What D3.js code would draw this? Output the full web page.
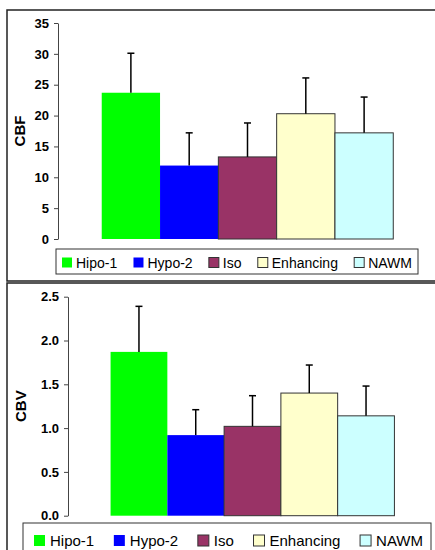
<!DOCTYPE html>
<html><head><meta charset="utf-8">
<script src="https://cdn.jsdelivr.net/npm/d3@7"></script>
<style>body{margin:0;background:#fff;overflow:hidden} svg{display:block} text{font-family:"Liberation Sans",Arial,sans-serif;fill:#000}</style>
</head><body><svg id="c" width="435" height="550"></svg>
<script>
const series = ["Hipo-1","Hypo-2","Iso","Enhancing","NAWM"];
const colors = ["#00ff00","#0000ff","#993366","#ffffcc","#ccffff"];
const outlined = [false,false,true,true,true];
const cbfMean = [23.7,11.9,13.3,20.3,17.2];
const cbfErr  = [6.4,5.3,5.5,5.8,5.8];
const cbvMean = [1.87,0.92,1.02,1.40,1.14];
const cbvErr  = [0.52,0.29,0.35,0.32,0.34];
const cbfTicks = [0,5,10,15,20,25,30,35];
const cbvTicks = [0,0.5,1.0,1.5,2.0,2.5];

const svg = d3.select("#c");

function panel(cfg){
  const g = svg.append("g");
  // frame
  g.append("rect").attr("x",cfg.frame[0]).attr("y",cfg.frame[1]).attr("width",cfg.frame[2]).attr("height",cfg.frame[3])
    .attr("fill","none").attr("stroke","#222").attr("stroke-width",1.5);
  const x = d3.scaleBand().domain(series).range([cfg.axisX, 437]).paddingInner(0).paddingOuter(0.75);
  const y = d3.scaleLinear().domain(cfg.domain).range([cfg.y0, cfg.y1]);
  // bars
  g.selectAll("rect.bar").data(series).join("rect").attr("class","bar")
    .attr("x", d=>x(d)).attr("width", x.bandwidth())
    .attr("y", (d,i)=>y(cfg.mean[i])).attr("height",(d,i)=>y(0)-y(cfg.mean[i]))
    .attr("fill",(d,i)=>colors[i])
    .attr("stroke",(d,i)=>outlined[i]?"#333":"none").attr("stroke-width",1);
  // error bars
  const cap = 3.5;
  series.forEach((d,i)=>{
    const cx = x(d)+x.bandwidth()/2;
    g.append("line").attr("x1",cx).attr("x2",cx).attr("y1",y(cfg.mean[i])).attr("y2",y(cfg.mean[i]+cfg.err[i]))
      .attr("stroke","#000").attr("stroke-width",1.5);
    g.append("line").attr("x1",cx-cap).attr("x2",cx+cap).attr("y1",y(cfg.mean[i]+cfg.err[i])).attr("y2",y(cfg.mean[i]+cfg.err[i]))
      .attr("stroke","#000").attr("stroke-width",1.5);
  });
  // axis
  const ax = g.append("g").attr("transform",`translate(${cfg.axisX},0)`)
    .call(d3.axisLeft(y).tickValues(cfg.ticks).tickFormat(cfg.fmt).tickSizeInner(4).tickSizeOuter(0).tickPadding(5));
  ax.select(".domain").attr("stroke","#444");
  ax.selectAll(".tick line").attr("stroke","#444");
  ax.selectAll("text").attr("font-size",13).attr("font-weight","bold").attr("font-family",'"Liberation Sans",Arial,sans-serif').attr("fill","#000");
  // y label
  g.append("text").attr("transform",`translate(${cfg.labelX},${(cfg.y0+cfg.y1)/2}) rotate(-90)`)
    .attr("text-anchor","middle").attr("font-size",15).attr("font-weight","bold").text(cfg.label);
  // legend
  const L = cfg.legend;
  g.append("rect").attr("x",L.box[0]).attr("y",L.box[1]).attr("width",L.box[2]).attr("height",L.box[3])
    .attr("fill","#fff").attr("stroke","#333").attr("stroke-width",1);
  const items = g.selectAll("g.li").data(series).join("g").attr("class","li");
  items.append("rect").attr("width",L.sw).attr("height",L.sw)
    .attr("fill",(d,i)=>colors[i]).attr("stroke",(d,i)=>outlined[i]?"#333":"none");
  items.append("text").attr("x",L.sw+L.gap).attr("y",L.sw).attr("font-size",L.fs).text(d=>d);
  const widths = items.nodes().map(n=>n.querySelector("text").getComputedTextLength());
  const total = d3.sum(widths) + series.length*(L.sw+L.gap);
  const spacing = (L.end - L.start - total)/(series.length-1);
  let cx = L.start;
  items.each(function(d,i){
    d3.select(this).attr("transform",`translate(${cx},${L.swY})`);
    cx += L.sw + L.gap + widths[i] + spacing;
  });
}

panel({frame:[7,10,440,271], axisX:58, domain:[0,35], y0:239, y1:23, mean:cbfMean, err:cbfErr,
  ticks:cbfTicks, fmt:d3.format("d"), label:"CBF", labelX:25,
  legend:{box:[56,249,362,25], sw:10, gap:4, fs:14, start:62, end:412, swY:257.5}});
panel({frame:[7,283,440,300], axisX:68, domain:[0,2.5], y0:515.7, y1:296.7, mean:cbvMean, err:cbvErr,
  ticks:cbvTicks, fmt:d3.format(".1f"), label:"CBV", labelX:26,
  legend:{box:[23,523,408,40], sw:11, gap:5, fs:15, start:34, end:423, swY:535}});
</script></body></html>
